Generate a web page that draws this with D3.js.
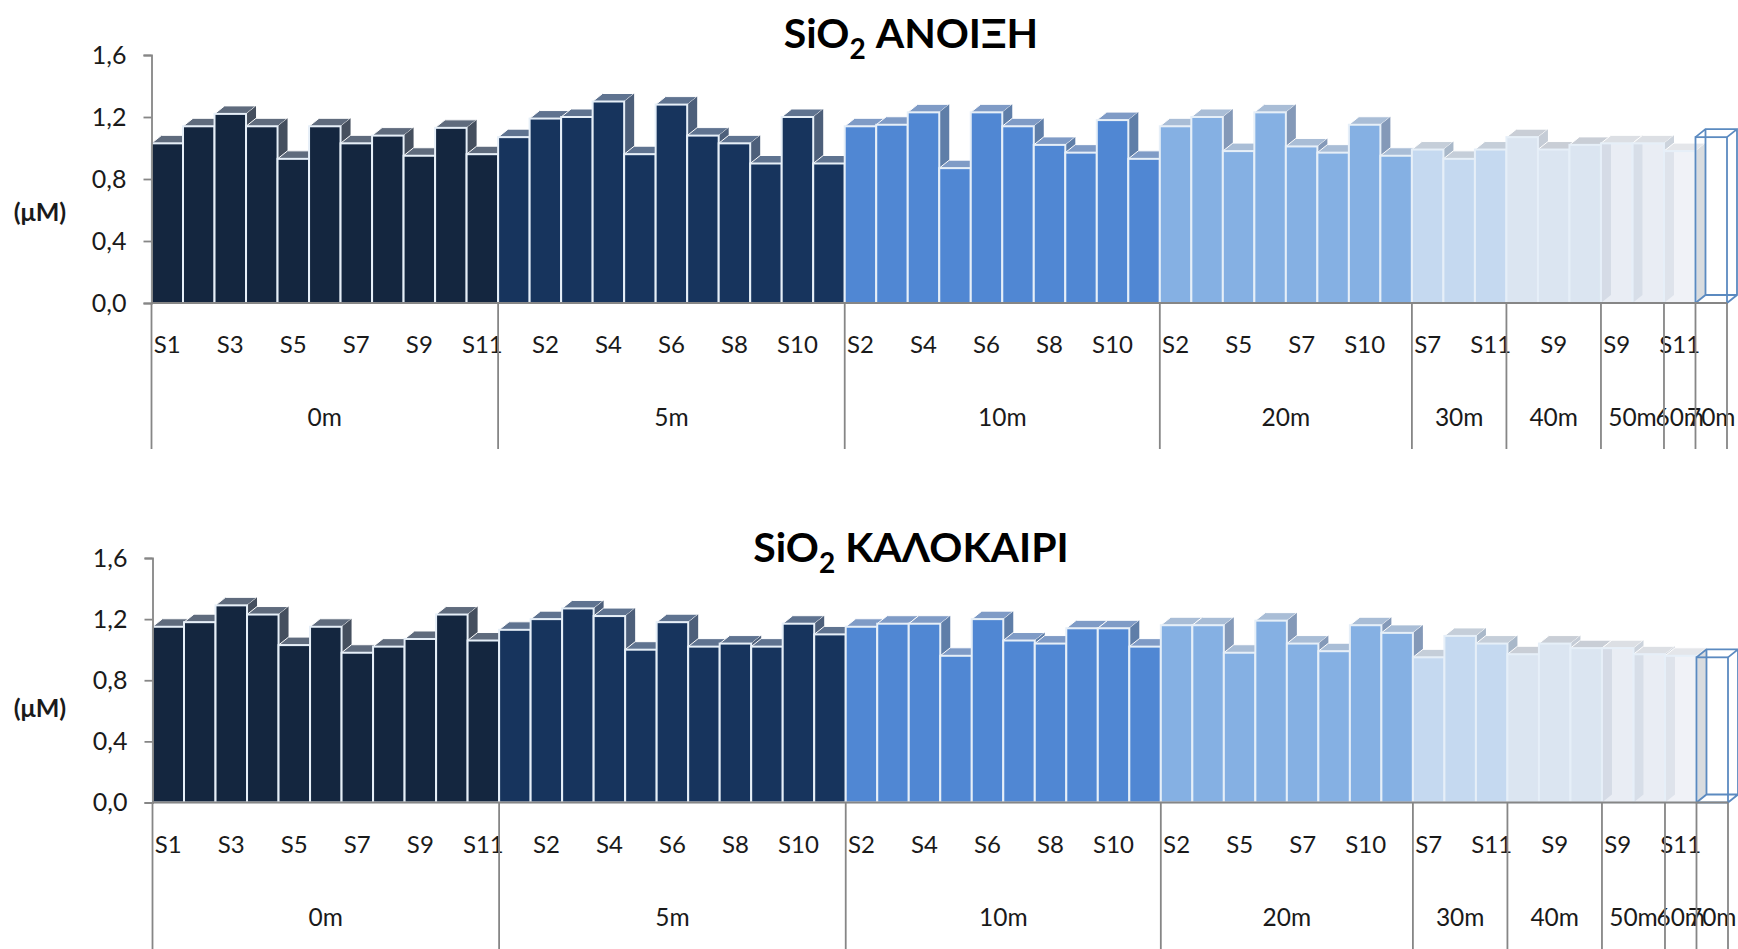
<!DOCTYPE html>
<html>
<head>
<meta charset="utf-8">
<title>SiO2</title>
<script src="https://cdn.jsdelivr.net/npm/d3@7"></script>
<style>
  html, body { margin: 0; padding: 0; background: #fff; overflow: hidden; }
  svg { display: block; }
  text { font-family: Lato, "Noto Sans", sans-serif; fill: #1a1a1a; }
</style>
</head>
<body>
<svg></svg>
<script>
const width = 1738;
const height = 949;

const depths = ["0m", "5m", "10m", "20m", "30m", "40m", "50m", "60m", "70m"];
const stations0m = ["S1", "S2", "S3", "S4", "S5", "S6", "S7", "S8", "S9", "S10", "S11"];
const stations5m = ["S1", "S2", "S3", "S4", "S5", "S6", "S7", "S8", "S9", "S10", "S11"];
const stations10m = ["S2", "S3", "S4", "S5", "S6", "S7", "S8", "S9", "S10", "S11"];
const stations20m = ["S2", "S4", "S5", "S6", "S7", "S9", "S10", "S11"];
const stations30m = ["S7", "S10", "S11"];
const stations40m = ["S8", "S9", "S11"];
const stations50m = ["S9", "S11"];
const stations60m = ["S11"];
const stations70m = ["S11"];
const stationsByDepth = [stations0m, stations5m, stations10m, stations20m, stations30m,
    stations40m, stations50m, stations60m, stations70m];

const spring = [
    1.03, 1.14, 1.22, 1.14, 0.93, 1.14, 1.03, 1.08, 0.95, 1.13, 0.96,
    1.07, 1.19, 1.20, 1.30, 0.96, 1.28, 1.08, 1.03, 0.90, 1.20, 0.90,
    1.14, 1.15, 1.23, 0.87, 1.23, 1.14, 1.02, 0.97, 1.18, 0.93,
    1.14, 1.20, 0.98, 1.23, 1.01, 0.97, 1.15, 0.95,
    0.99, 0.93, 0.99,
    1.07, 0.99, 1.02,
    1.03, 1.03,
    0.98,
    1.07
];
const summer = [
    1.15, 1.18, 1.29, 1.23, 1.03, 1.15, 0.98, 1.02, 1.07, 1.23, 1.06,
    1.13, 1.20, 1.27, 1.22, 1.00, 1.18, 1.02, 1.04, 1.02, 1.17, 1.10,
    1.15, 1.17, 1.17, 0.96, 1.20, 1.06, 1.04, 1.14, 1.14, 1.02,
    1.16, 1.16, 0.98, 1.19, 1.04, 0.99, 1.16, 1.11,
    0.95, 1.09, 1.04,
    0.97, 1.04, 1.01,
    1.01, 0.97,
    0.96,
    0.95
];
const yTicks = [0, 0.4, 0.8, 1.2, 1.6];

const frontColors = ["#14263f", "#17345d", "#5087d3", "#85b0e3", "#c5d9f0", "#dbe5f1", "#dde3ee", "#e8ebf3", "none"];
const frontOpacity = [1, 1, 1, 1, 1, 1, 0.65, 0.65, 1];
const sideColors = ["#454f5e", "#4d5f7a", "#5f7ea8", "#8499b8", "#a9b8c9", "#c5ccd6", "#ccd3dc", "#d9dcdf", "none"];
const topColors = ["#5f6b7d", "#5f7390", "#7f9bc6", "#a9bdd6", "#c5ced9", "#c9ced6", "#dcdfe4", "#e4e6ea", "none"];
const boxColor = "#5b8ac0";
const axisColor = "#868686";
const edgeColor = "#e6eff8";

const depthX = 10;
const depthY = 8;

// flat list of bars, one key per bar
const bars = [];
stationsByDepth.forEach((stations, g) => {
    stations.forEach(s => bars.push({ key: depths[g] + "-" + s, station: s, group: g }));
});

const svg = d3.select("svg").attr("width", width).attr("height", height);

function drawChart(layout, titleText, values) {
    const xScale = d3.scaleBand()
        .domain(bars.map(d => d.key))
        .range([layout.left, layout.right]);
    const yScale = d3.scaleLinear()
        .domain([0, 1.6])
        .range([layout.base, layout.top]);

    const g = svg.append("g");

    const rows = bars.map((d, i) => Object.assign({ value: values[i] }, d));

    const bar = g.selectAll(".bar")
        .data(rows)
        .enter()
        .append("g")
            .classed("bar", true);

    // top and side first, the next bar's front covers them
    bar.filter(d => topColors[d.group] !== "none").append("path")
        .attr("fill", d => topColors[d.group])
        .attr("stroke", "#fff")
        .attr("stroke-width", 1)
        .attr("d", d => {
            const x = xScale(d.key), y = yScale(d.value), w = xScale.bandwidth();
            return `M${x},${y}l${depthX},${-depthY}h${w}l${-depthX},${depthY}Z`;
        });

    bar.filter(d => sideColors[d.group] !== "none").append("path")
        .attr("fill", d => sideColors[d.group])
        .attr("d", d => {
            const x = xScale(d.key) + xScale.bandwidth(), y = yScale(d.value);
            return `M${x},${y}l${depthX},${-depthY}V${layout.base - depthY}L${x},${layout.base}Z`;
        });

    bar.filter(d => frontColors[d.group] !== "none").append("rect")
        .attr("x", d => xScale(d.key))
        .attr("y", d => yScale(d.value))
        .attr("width", xScale.bandwidth())
        .attr("height", d => layout.base - yScale(d.value))
        .attr("fill", d => frontColors[d.group])
        .attr("fill-opacity", d => frontOpacity[d.group])
        .attr("stroke", edgeColor)
        .attr("stroke-width", 2);

    // the empty 70m column is only an outlined box
    const box = bar.filter(d => frontColors[d.group] === "none").append("g")
        .attr("fill", "none")
        .attr("stroke", boxColor)
        .attr("stroke-width", 1.8);
    box.append("rect")
        .attr("x", d => xScale(d.key))
        .attr("y", d => yScale(d.value))
        .attr("width", xScale.bandwidth())
        .attr("height", d => layout.base - yScale(d.value));
    box.append("path")
        .attr("d", d => {
            const x = xScale(d.key), y = yScale(d.value), w = xScale.bandwidth();
            return `M${x},${y}l${depthX},${-depthY}h${w}l${-depthX},${depthY}`
                + `M${x + w + depthX},${y - depthY}V${layout.base - depthY}l${-depthX},${depthY}`
                + `M${x},${layout.base}l${depthX},${-depthY}h${w}`
                + `M${x + depthX},${y - depthY}V${layout.base - depthY}`;
        });

    // y axis
    const yAxis = d3.axisLeft(yScale)
        .tickValues(yTicks)
        .tickFormat(d => d3.format(".1f")(d).replace(".", ","))
        .tickSizeOuter(0)
        .tickSize(8)
        .tickPadding(17);
    const yG = g.append("g")
        .attr("transform", `translate(${layout.left},0)`)
        .call(yAxis);
    yG.selectAll("path, line").attr("stroke", axisColor).attr("stroke-width", 1.8);
    yG.selectAll("text").attr("font-size", 25).attr("font-family", "Lato, 'Noto Sans', sans-serif").attr("fill", "#1a1a1a");

    // baseline
    g.append("line")
        .attr("x1", layout.left).attr("x2", layout.right)
        .attr("y1", layout.base).attr("y2", layout.base)
        .attr("stroke", axisColor).attr("stroke-width", 1.8);

    // station labels: every second bar, as in the spreadsheet axis
    const xAxis = d3.axisBottom(xScale)
        .tickValues(bars.filter((d, i) => i % 2 === 0 && d.group < 8).map(d => d.key))
        .tickFormat(k => k.split("-")[1])
        .tickSize(0)
        .tickPadding(layout.stationPad);
    const xG = g.append("g")
        .attr("transform", `translate(0,${layout.base})`)
        .call(xAxis);
    xG.select(".domain").remove();
    xG.selectAll("text").attr("font-size", 24).attr("font-family", "Lato, 'Noto Sans', sans-serif").attr("fill", "#1a1a1a");

    // depth groups
    let start = 0;
    const edges = [xScale.range()[0]];
    stationsByDepth.forEach((stations, i) => {
        const last = bars[start + stations.length - 1].key;
        const x1 = xScale(last) + xScale.bandwidth();
        const x0 = xScale(bars[start].key);
        g.append("text")
            .attr("x", (x0 + x1) / 2)
            .attr("y", layout.groupY)
            .attr("text-anchor", "middle")
            .attr("font-size", 24.5)
            .text(depths[i]);
        edges.push(x1);
        start += stations.length;
    });
    g.selectAll(".sep")
        .data(edges)
        .enter()
        .append("line")
            .classed("sep", true)
            .attr("x1", d => d).attr("x2", d => d)
            .attr("y1", layout.base).attr("y2", layout.sepEnd)
            .attr("stroke", axisColor)
            .attr("stroke-width", 1.8);

    // unit
    g.append("text")
        .attr("x", 40)
        .attr("y", layout.unitY)
        .attr("text-anchor", "middle")
        .attr("font-size", 25)
        .attr("font-weight", 700)
        .text("(μM)");

    // title with subscript
    const title = g.append("text")
        .attr("x", 911)
        .attr("y", layout.titleY)
        .attr("text-anchor", "middle")
        .attr("font-size", 41)
        .attr("font-weight", 700)
        .style("fill", "#000");
    title.append("tspan").text("SiO");
    title.append("tspan").attr("dy", 11).attr("font-size", 28).text("2");
    title.append("tspan").attr("dy", -11).text(" " + titleText);
}

drawChart({ left: 151.5, right: 1727, top: 55, base: 303, stationPad: 33, groupY: 426, sepEnd: 449, unitY: 221, titleY: 48 },
    "ΑΝΟΙΞΗ", spring);
drawChart({ left: 152.5, right: 1728, top: 558, base: 802.5, stationPad: 33, groupY: 926, sepEnd: 949, unitY: 717, titleY: 562 },
    "ΚΑΛΟΚΑΙΡΙ", summer);
</script>
</body>
</html>
